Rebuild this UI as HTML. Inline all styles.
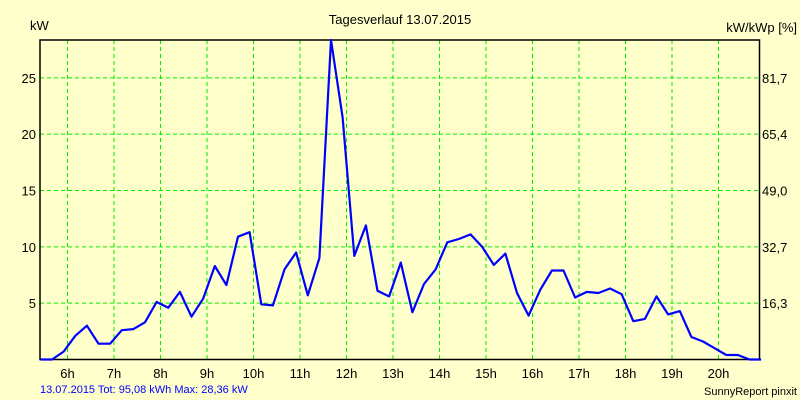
<!DOCTYPE html>
<html><head><meta charset="utf-8"><style>
body{margin:0;background:#ffffcc;}
svg{display:block;font-family:"Liberation Sans",sans-serif;}
</style></head><body>
<svg width="800" height="400" viewBox="0 0 800 400">
<rect x="0" y="0" width="800" height="400" fill="#ffffcc"/>
<text x="400" y="24" text-anchor="middle" font-size="13" fill="#000">Tagesverlauf 13.07.2015</text>
<text x="30" y="30" font-size="13" fill="#000">kW</text>
<text x="797" y="32" text-anchor="end" font-size="13" fill="#000">kW/kWp [%]</text>
<g id="grid"></g>
<g id="ticks"></g>
<rect x="40" y="40" width="719.5" height="319.5" fill="none" stroke="#000" stroke-width="1.5"/>
<polyline id="line" fill="none" stroke="#0000ff" stroke-width="2.2" stroke-linejoin="round"/>
<text x="40" y="393" font-size="11" fill="#0000ff">13.07.2015 Tot: 95,08 kWh Max: 28,36 kW</text>
<text x="797" y="395" text-anchor="end" font-size="11" fill="#000">SunnyReport pinxit</text>
</svg>
<script>
const startHour = 5.4167;
const stepHour = 0.25;
const values = [0,0,0.7,2.1,3.0,1.4,1.4,2.6,2.7,3.3,5.1,4.6,6.0,3.8,5.4,8.3,6.6,10.9,11.3,4.9,4.8,8.0,9.5,5.7,9.0,28.36,21.5,9.2,11.9,6.1,5.6,8.6,4.2,6.7,8.0,10.4,10.7,11.1,10.0,8.4,9.4,5.9,3.9,6.2,7.9,7.9,5.5,6.0,5.9,6.3,5.8,3.4,3.6,5.6,4.0,4.3,2.0,1.6,1.0,0.4,0.4,0,0];
const hourTicks = [6,7,8,9,10,11,12,13,14,15,16,17,18,19,20];
const yTicks = [5,10,15,20,25];
const rightTickLabels = ["16,3","32,7","49,0","65,4","81,7"];
const yMax = 28.36;
const NS = "http://www.w3.org/2000/svg";
function xScale(h){ return 67.5 + (h-6)*46.5; }
function yScale(v){ return 359.5 - v/yMax*319.5; }
const grid = document.getElementById('grid');
const ticks = document.getElementById('ticks');
hourTicks.forEach(h=>{
  const x = xScale(h);
  const l = document.createElementNS(NS,'line');
  l.setAttribute('x1',x);l.setAttribute('x2',x);l.setAttribute('y1',40);l.setAttribute('y2',359.5);
  l.setAttribute('stroke','#00ee00');l.setAttribute('stroke-dasharray','4,3');
  
  
  grid.appendChild(l);
  const t = document.createElementNS(NS,'text');
  t.setAttribute('x',x);t.setAttribute('y',378);t.setAttribute('text-anchor','middle');t.setAttribute('font-size','13');
  t.textContent = h+'h';
  
  
  ticks.appendChild(t);
});
yTicks.forEach((v,i)=>{
  const y = yScale(v);
  const l = document.createElementNS(NS,'line');
  l.setAttribute('x1',40);l.setAttribute('x2',759.5);l.setAttribute('y1',y);l.setAttribute('y2',y);
  l.setAttribute('stroke','#00ee00');l.setAttribute('stroke-dasharray','4,3');
  
  
  grid.appendChild(l);
  const t = document.createElementNS(NS,'text');
  t.setAttribute('x',36);t.setAttribute('y',y+5);t.setAttribute('text-anchor','end');t.setAttribute('font-size','13');
  t.textContent = v;
  
  
  ticks.appendChild(t);
  const r = document.createElementNS(NS,'text');
  r.setAttribute('x',762);r.setAttribute('y',y+5);r.setAttribute('font-size','13');
  r.textContent = rightTickLabels[i];
  
  
  ticks.appendChild(r);
});
document.getElementById('line').setAttribute('points',
  values.map((v,i)=>xScale(startHour+i*stepHour).toFixed(1)+','+yScale(v).toFixed(1)).join(' '));
</script>
</body></html>
